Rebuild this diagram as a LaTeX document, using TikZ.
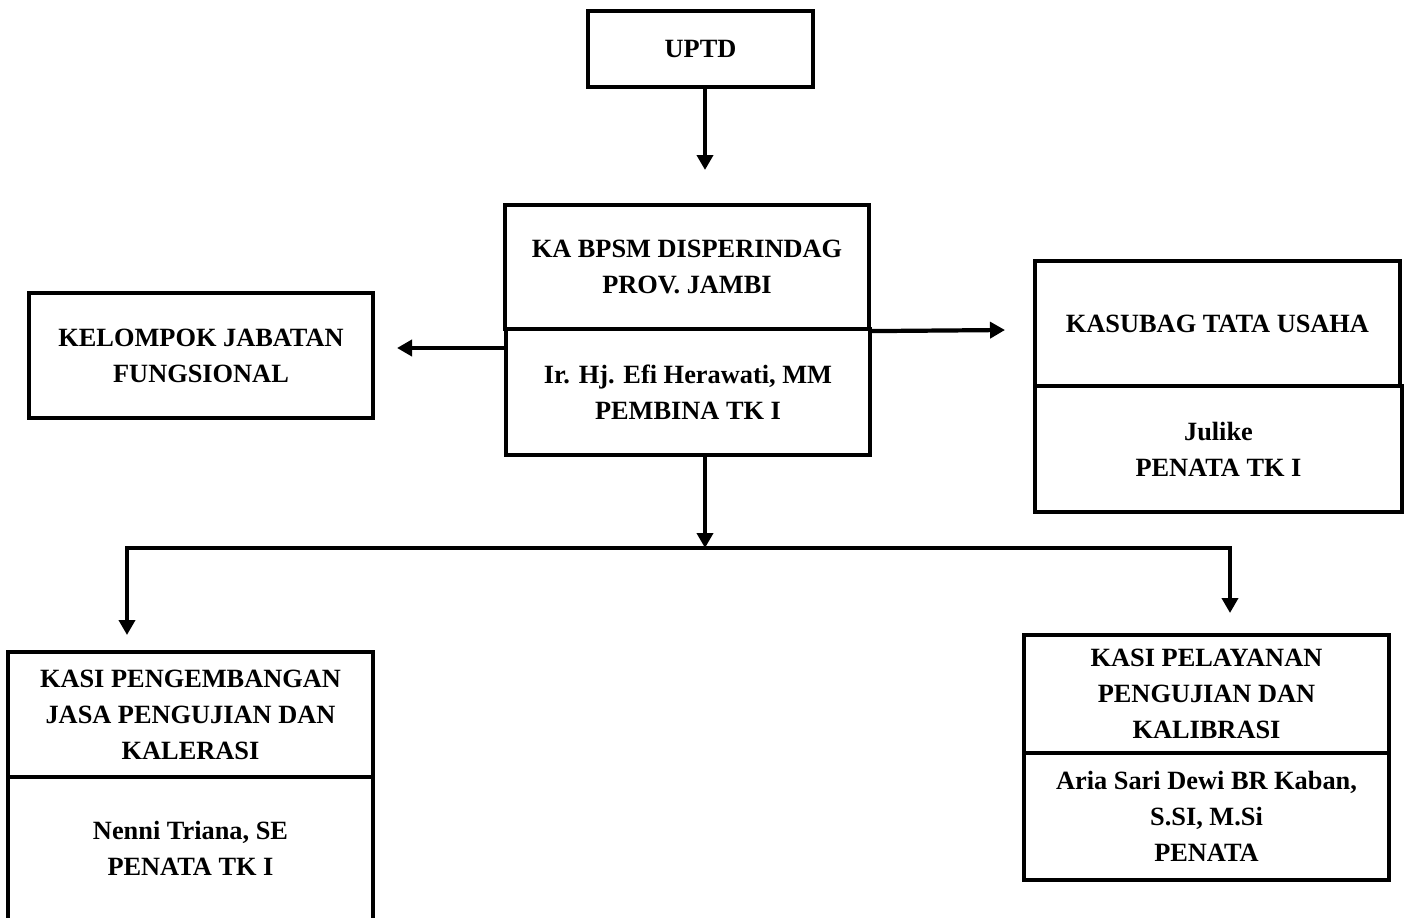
\documentclass[tikz,border=0pt]{standalone}
\usepackage{fontspec}
\setmainfont{Liberation Serif}
\usetikzlibrary{arrows.meta, positioning}

\begin{document}
\begin{tikzpicture}[x=0.02cm,y=-0.02cm,line width=2.4pt]
  \tikzstyle{unit}=[draw,rectangle,align=center,inner sep=0pt,
    font=\bfseries\fontsize{15}{20.5}\selectfont]
  \tikzstyle{link}=[-{Triangle[width=0.32cm,length=0.3cm]}]
  \useasboundingbox (0,0) rectangle (1411,917);

  \node[unit,minimum width=4.5cm,minimum height=1.52cm]  (uptd) at (700.5,49) {UPTD};
  \node[unit,minimum width=7.28cm,minimum height=2.48cm] (kabpsm) at (687,267) {KA BPSM DISPERINDAG\\PROV. JAMBI};
  \node[unit,minimum width=7.28cm,minimum height=2.52cm] (kabpsmName) at (688,392) {Ir. Hj. Efi Herawati, MM\\PEMBINA TK I};
  \node[unit,minimum width=6.88cm,minimum height=2.5cm]  (kelompok) at (201,355.5) {KELOMPOK JABATAN\\FUNGSIONAL};
  \node[unit,minimum width=7.3cm,minimum height=2.5cm]   (kasubag) at (1217.5,323.5) {KASUBAG TATA USAHA};
  \node[unit,minimum width=7.34cm,minimum height=2.52cm] (kasubagName) at (1218.5,449) {Julike\\PENATA TK I};
  \node[unit,minimum width=7.3cm,minimum height=2.5cm]   (kasiJasa) at (190.5,714.5) {KASI PENGEMBANGAN\\JASA PENGUJIAN DAN\\KALERASI};
  \node[unit,minimum width=7.3cm,minimum height=2.86cm]  (kasiJasaName) at (190.5,848.5) {Nenni Triana, SE\\PENATA TK I};
  \node[unit,minimum width=7.3cm,minimum height=2.36cm]  (kasiUji) at (1206.5,694) {KASI PELAYANAN\\PENGUJIAN DAN\\KALIBRASI};
  \node[unit,minimum width=7.3cm,minimum height=2.54cm]  (kasiUjiName) at (1206.5,816.5) {Aria Sari Dewi BR Kaban,\\S.SI, M.Si\\PENATA};

  \coordinate (upEnd) at (705,170);
  \coordinate (kelEnd) at (397,348);
  \coordinate (subEnd) at (1005,330);
  \coordinate (split) at (705,548);
  \coordinate (lTurn) at (127,548);
  \coordinate (rTurn) at (1230,548);
  \coordinate (lEnd) at (127,635);
  \coordinate (rEnd) at (1230,613);

  \draw[link] (upEnd |- uptd.south) -- (upEnd);
  \draw[link] (kabpsmName.west |- kelEnd) -- (kelEnd);
  \draw[link] (kabpsm.south east) -- (subEnd);
  \draw[link] (split |- kabpsmName.south) -- (split);
  \draw[{Triangle[width=0.32cm,length=0.3cm]}-{Triangle[width=0.32cm,length=0.3cm]}]
    (lEnd) -- (lTurn) -- (rTurn) -- (rEnd);
\end{tikzpicture}
\end{document}
